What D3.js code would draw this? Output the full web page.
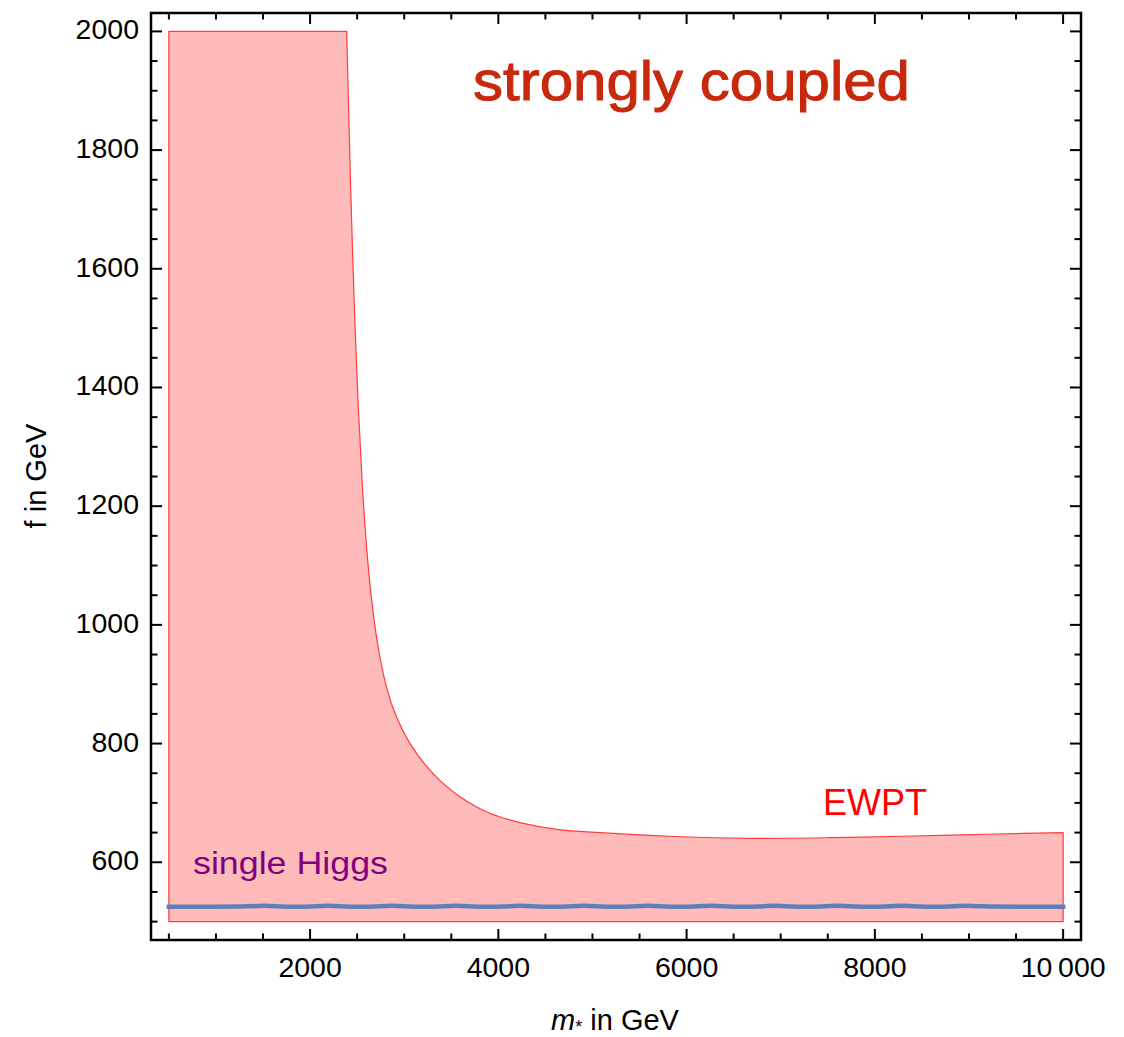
<!DOCTYPE html>
<html>
<head>
<meta charset="utf-8">
<script src="https://cdn.jsdelivr.net/npm/d3@7"></script>
<style>
  html, body { margin: 0; padding: 0; background: #fff; }
  svg { display: block; }
  text { font-family: "Liberation Sans", Arial, sans-serif; }
</style>
</head>
<body>
<svg id="chart" width="1124" height="1037"></svg>
<script>
// ---- data ----
// EWPT allowed region: top of the band is clipped at the plot range (2000) from m* = 500 to ~2389,
// then follows the boundary curve f(m*); the bottom of the band is at 500.
const ewptStartM = 500;
const ewptClipF = 2000;
const ewptLower = 500;
const ewptM = [2389, 2407, 2435, 2468, 2509, 2552, 2603, 2654, 2711, 2781, 2876, 3062, 3327, 3593, 3911, 4265, 4620, 5080, 5930, 6638, 7523, 8408, 9294, 10000];
const ewptF = [2000, 1884, 1716, 1547, 1379, 1244, 1126, 1042, 974.5, 915.5, 862, 800, 746, 710.5, 682.5, 665.6, 655.5, 649.8, 643, 640.4, 641.4, 644.2, 647.6, 649.8];

// single Higgs bound (numerical curve, with small wiggles)
const higgsM = [500, 1370, 1512, 1650, 2050, 2190, 2330, 2730, 2870, 3010, 3410, 3550, 3690, 4090, 4230, 4370,
                4770, 4910, 5050, 5450, 5590, 5730, 6120, 6260, 6400, 6790, 6930, 7070, 7460, 7600, 7740,
                8150, 8290, 8430, 8830, 8970, 9110, 10000];
const higgsF = [525, 525, 527.5, 525, 525, 527.5, 525, 525, 527.5, 525, 525, 527.5, 525, 525, 527.5, 525,
                525, 527.5, 525, 525, 527.5, 525, 525, 527.5, 525, 525, 527.5, 525, 525, 527.5, 525,
                525, 527.5, 525, 525, 527.5, 525, 525];

const xMajor = [2000, 4000, 6000, 8000, 10000];
const xMajorLabels = ["2000", "4000", "6000", "8000", "10\u2009000"];
const xMinor = [500, 1000, 1500, 2500, 3000, 3500, 4500, 5000, 5500, 6500, 7000, 7500, 8500, 9000, 9500];
const yMajor = [600, 800, 1000, 1200, 1400, 1600, 1800, 2000];
const yMinor = [500, 550, 650, 700, 750, 850, 900, 950, 1050, 1100, 1150, 1250, 1300, 1350, 1450, 1500, 1550, 1650, 1700, 1750, 1850, 1900, 1950];

// ---- layout ----
const L = 151, R = 1081, T = 13, B = 940;
const svg = d3.select("#chart");
const x = d3.scaleLinear().domain([310, 10190]).range([L, R]);
const y = d3.scaleLinear().domain([469, 2031]).range([B, T]);

// region
const ewpt = ewptM.map((m, i) => ({ m, f: ewptF[i] }));
const curvePath = d3.line().x(d => x(d.m)).y(d => y(d.f)).curve(d3.curveCatmullRom.alpha(0.5))(ewpt);
const regionPath = `M${x(ewptStartM)},${y(ewptLower)}V${y(ewptClipF)}H${x(ewptM[0])}` +
  curvePath.replace(/^M/, "L") + `V${y(ewptLower)}Z`;
svg.append("path").attr("d", regionPath)
  .attr("fill", "rgb(255,186,186)")
  .attr("stroke", "rgb(255,60,60)")
  .attr("stroke-width", 1.2)
  .attr("stroke-linejoin", "miter");

// single Higgs line
const higgs = higgsM.map((m, i) => ({ m, f: higgsF[i] }));
svg.append("path").datum(higgs)
  .attr("d", d3.line().x(d => x(d.m)).y(d => y(d.f)).curve(d3.curveBasis))
  .attr("fill", "none")
  .attr("stroke", "rgb(94,129,181)")
  .attr("stroke-width", 4.5)
  .attr("stroke-linecap", "square");

// frame
svg.append("rect").attr("x", L).attr("y", T).attr("width", R - L).attr("height", B - T)
  .attr("fill", "none").attr("stroke", "#000").attr("stroke-width", 2.5);

// ticks (all four sides, inward)
const g = svg.append("g").attr("stroke", "#000").attr("stroke-width", 2);
const majLen = 11, minLen = 6.5;
function xTicks(vals, len) {
  vals.forEach(v => {
    g.append("line").attr("x1", x(v)).attr("x2", x(v)).attr("y1", B).attr("y2", B - len);
    g.append("line").attr("x1", x(v)).attr("x2", x(v)).attr("y1", T).attr("y2", T + len);
  });
}
function yTicks(vals, len) {
  vals.forEach(v => {
    g.append("line").attr("y1", y(v)).attr("y2", y(v)).attr("x1", L).attr("x2", L + len);
    g.append("line").attr("y1", y(v)).attr("y2", y(v)).attr("x1", R).attr("x2", R - len);
  });
}
xTicks(xMajor, majLen); xTicks(xMinor, minLen);
yTicks(yMajor, majLen); yTicks(yMinor, minLen);

// tick labels
const fs = 28.5;
svg.append("g").selectAll("text").data(xMajor).join("text")
  .attr("x", d => x(d)).attr("y", 977)
  .attr("text-anchor", "middle").attr("font-size", fs).attr("fill", "#000")
  .text((d, i) => xMajorLabels[i]);
svg.append("g").selectAll("text").data(yMajor).join("text")
  .attr("x", 139).attr("y", d => y(d) + 8)
  .attr("text-anchor", "end").attr("font-size", fs).attr("fill", "#000")
  .text(d => String(d));

// axis labels
const xl = svg.append("text").attr("x", 615).attr("y", 1030).attr("text-anchor", "middle")
  .attr("font-size", 29).attr("fill", "#000");
xl.append("tspan").attr("font-style", "italic").text("m");
xl.append("tspan").attr("font-size", 18).attr("dy", 3).text("*");
xl.append("tspan").attr("dy", -3).text(" in GeV");

svg.append("text").attr("transform", "translate(46,476) rotate(-90)")
  .attr("text-anchor", "middle").attr("font-size", 29).attr("fill", "#000")
  .text("f in GeV");

// annotations
svg.append("text").attr("x", 473).attr("y", 100)
  .attr("font-family", "Lato, 'Open Sans', sans-serif").attr("font-weight", 400)
  .attr("font-size", 56).attr("fill", "rgb(200,40,12)")
  .attr("stroke", "rgb(200,40,12)").attr("stroke-width", 1.0)
  .attr("textLength", 437).attr("lengthAdjust", "spacingAndGlyphs")
  .text("strongly coupled");

svg.append("text").attr("x", 823).attr("y", 815)
  .attr("font-size", 36).attr("fill", "#ff0000")
  .text("EWPT");

svg.append("text").attr("x", 193).attr("y", 874)
  .attr("font-size", 31).attr("fill", "rgb(128,0,128)")
  .attr("textLength", 195).attr("lengthAdjust", "spacingAndGlyphs")
  .text("single Higgs");
</script>
</body>
</html>
